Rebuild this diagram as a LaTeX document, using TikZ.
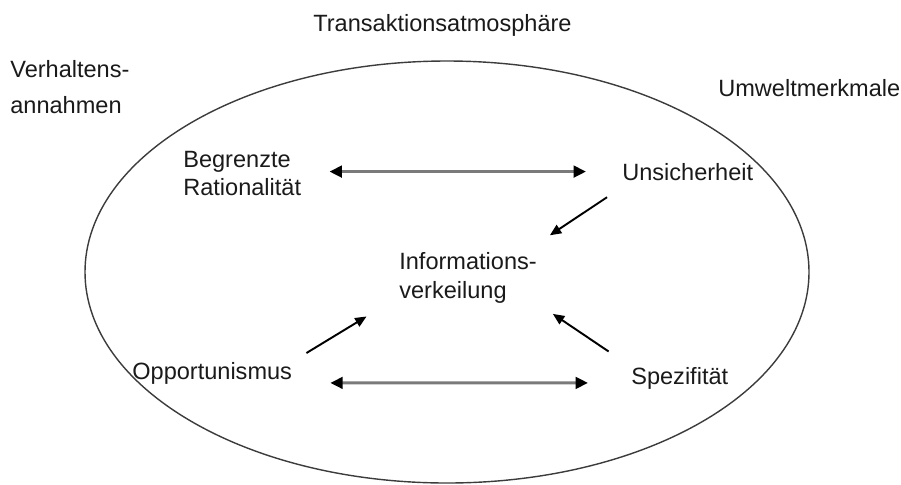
\documentclass[tikz,border=0pt]{standalone}
\usepackage{fontspec}
\setmainfont{Liberation Sans}
\usetikzlibrary{arrows.meta}
\definecolor{textgray}{HTML}{1A1A1A}
\definecolor{rimgray}{HTML}{3C3C3C}
\definecolor{shaftgray}{HTML}{7A7A7A}

\begin{document}
\begin{tikzpicture}[x=0.02cm, y=-0.02cm,
    lbl/.style={inner sep=0pt, anchor=base west, align=left, text=textgray,
                font=\fontsize{13.4pt}{15.5pt}\selectfont},
    biarrow/.style={{Triangle[length=7pt, width=6.5pt, color=black]}-{Triangle[length=7pt, width=6.5pt, color=black]},
                    line width=1.7pt, shaftgray},
    onearrow/.style={-{Triangle[length=6.5pt, width=5.5pt]}, line width=1.1pt, black}]
  \useasboundingbox (0,0) rectangle (901,484);

  % --- Transaction atmosphere (the ellipse) ---
  \draw[rimgray, line width=0.8pt] (447,272) ellipse [x radius=362, y radius=211];

  % --- Labels outside ---
  \node[lbl] (atmo) at (313,31) {Transaktionsatmosphäre};
  \node[lbl, font=\fontsize{13.4pt}{20pt}\selectfont] (verh) at (10,113) {Verhaltens-\\annahmen};
  \node[lbl] (umwelt) at (718,96) {Umweltmerkmale};

  % --- Labels inside ---
  \node[lbl] (ratio) at (183,195) {Begrenzte\\Rationalität};
  \node[lbl] (unsich) at (622,180) {Unsicherheit};
  \node[lbl, font=\fontsize{13.4pt}{16pt}\selectfont] (info) at (399,298) {Informations-\\verkeilung};
  \node[lbl] (opport) at (132,379) {Opportunismus};
  \node[lbl] (spez) at (631,384) {Spezifität};

  % --- Horizontal links ---
  \draw[biarrow, shorten <=0.56cm, shorten >=0.72cm] (ratio.east |- unsich) -- (unsich.west);
  \draw[biarrow, shorten <=0.76cm, shorten >=0.86cm] ([yshift=-0.2cm]opport.east) -- ([yshift=-0.1cm]spez.west);

  % --- Links into the centre ---
  \draw[onearrow, shorten <=0.6cm, shorten >=0.62cm] ([xshift=0.2cm]unsich.south west) -- ([xshift=-0.26cm]info.north east);
  \draw[onearrow, shorten <=0.33cm, shorten >=0.76cm] (opport.north east) -- ([yshift=0.13cm]info.south west);
  \draw[onearrow, shorten <=0.54cm, shorten >=0.38cm] (spez.north west) -- (info.south east);
\end{tikzpicture}
\end{document}
